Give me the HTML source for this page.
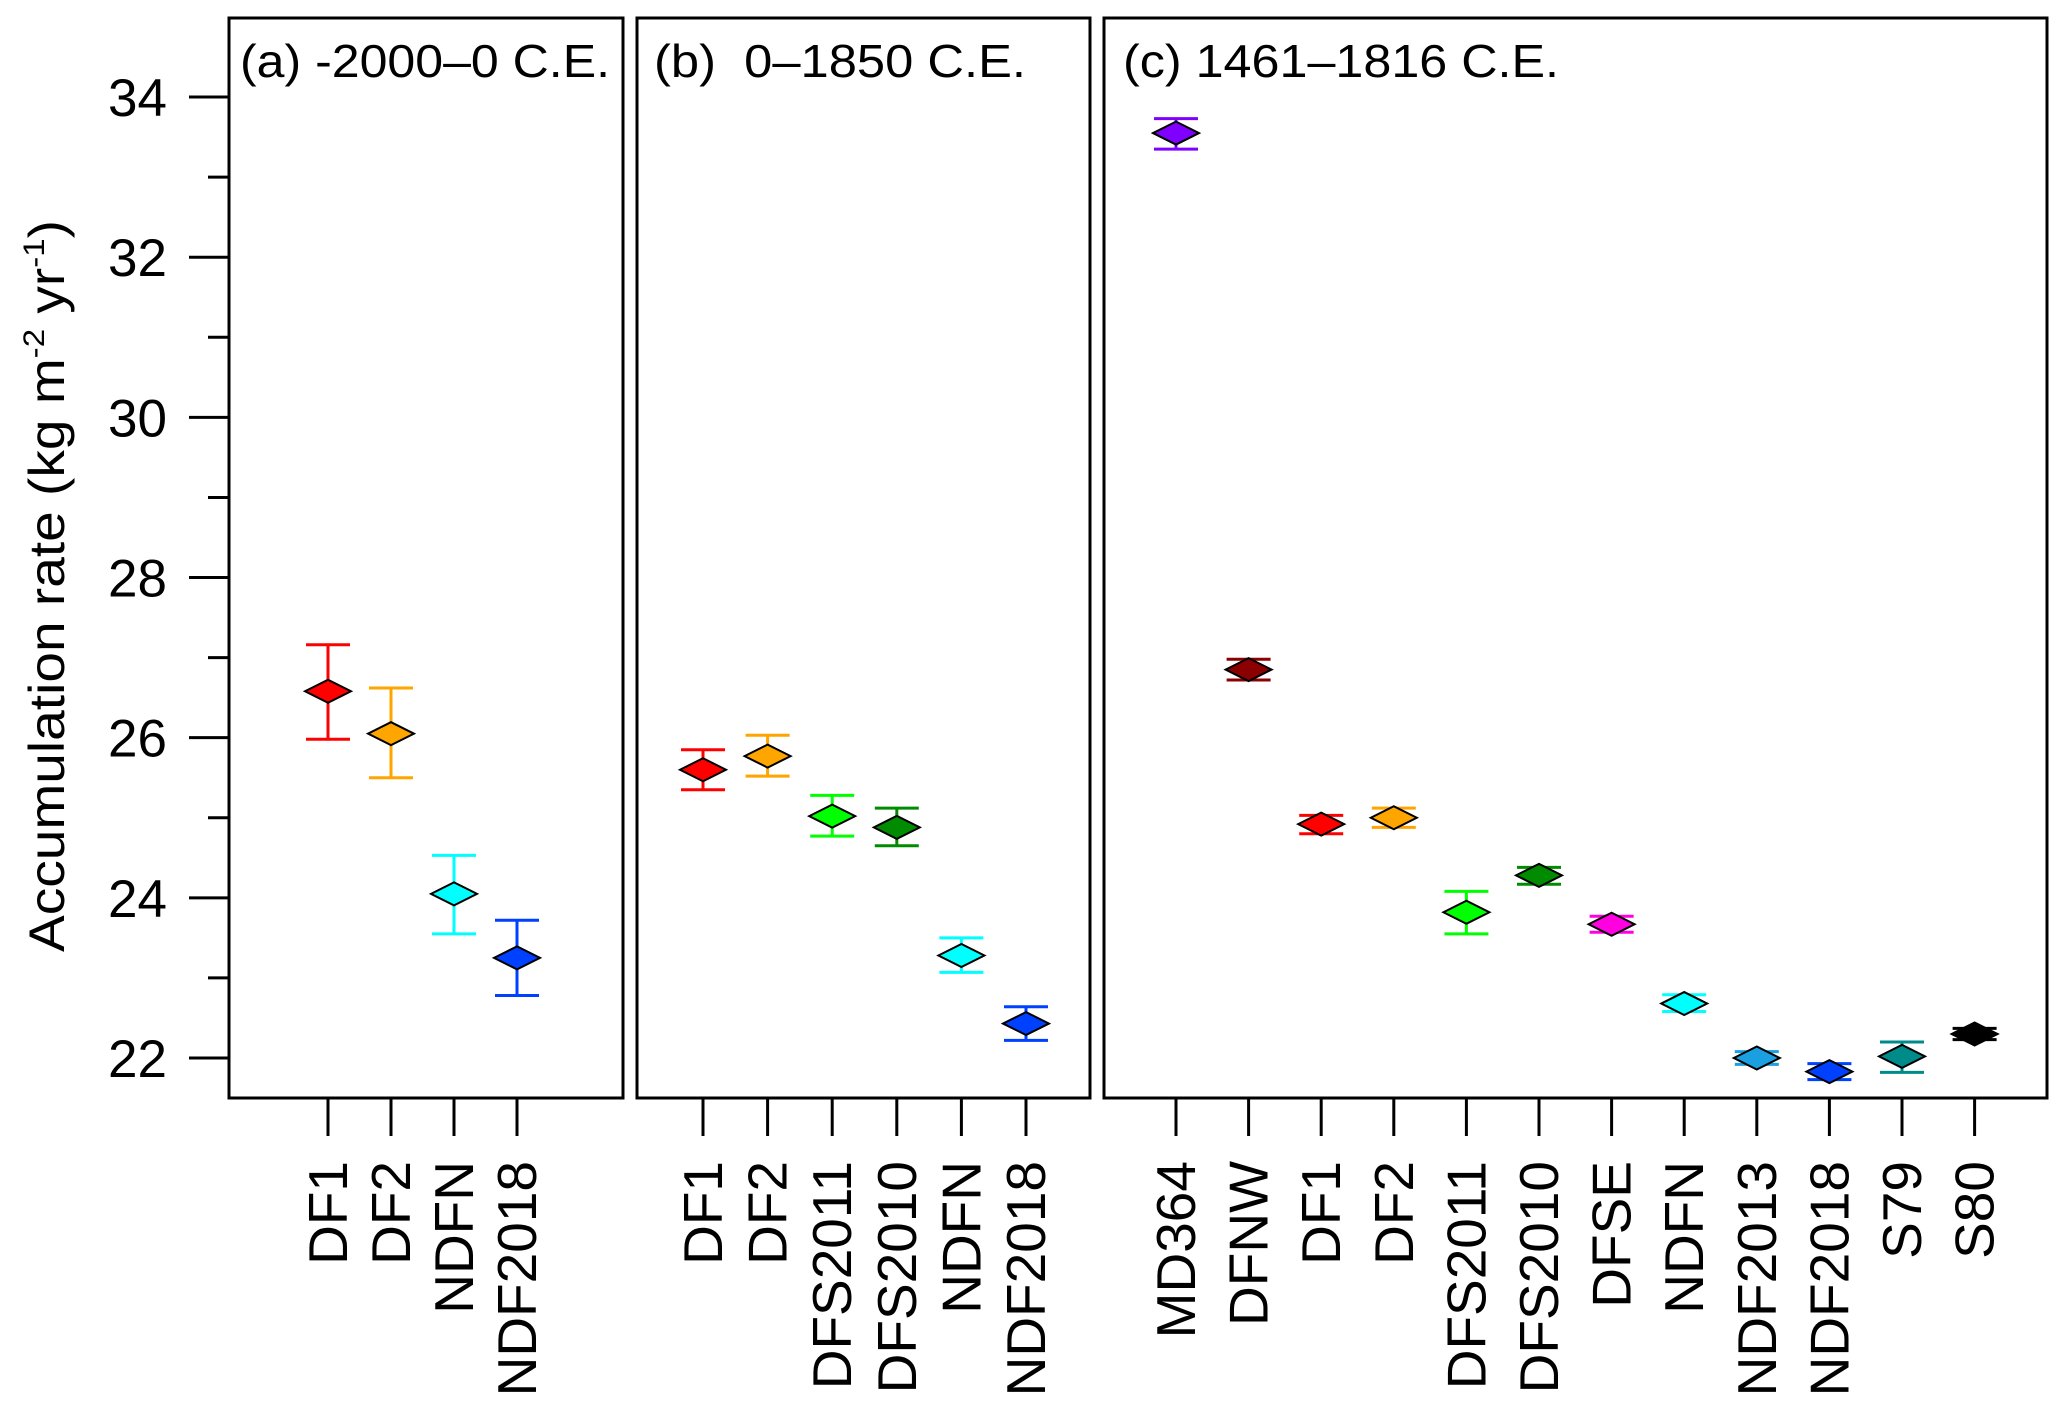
<!DOCTYPE html>
<html><head><meta charset="utf-8"><style>
html,body{margin:0;padding:0;background:#fff;}
svg{display:block;font-family:"Liberation Sans",Arial,sans-serif;}
</style></head><body>
<svg id="chart" width="2067" height="1411" viewBox="0 0 2067 1411" xmlns="http://www.w3.org/2000/svg">
<text transform="translate(64,586) rotate(-90)" text-anchor="middle" font-size="50" textLength="732" lengthAdjust="spacingAndGlyphs">Accumulation rate (kg m<tspan font-size="30" dy="-20">-2</tspan><tspan dy="20"> yr</tspan><tspan font-size="30" dy="-20">-1</tspan><tspan dy="20">)</tspan></text>
</svg>
<script>
const yTicks = [22,24,26,28,30,32,34];
const yMinor = [23,25,27,29,31,33];

const catsA = ["DF1","DF2","NDFN","NDF2018"];
const valsA = [26.58,26.05,24.05,23.25];
const lowA  = [25.98,25.50,23.55,22.78];
const highA = [27.16,26.62,24.53,23.72];
const colsA = ["#ff0000","#ffa500","#00ffff","#0040ff"];

const catsB = ["DF1","DF2","DFS2011","DFS2010","NDFN","NDF2018"];
const valsB = [25.60,25.77,25.02,24.88,23.28,22.43];
const lowB  = [25.35,25.52,24.77,24.65,23.07,22.22];
const highB = [25.85,26.03,25.28,25.12,23.50,22.64];
const colsB = ["#ff0000","#ffa500","#00ff00","#008b00","#00ffff","#0040ff"];

const catsC = ["MD364","DFNW","DF1","DF2","DFS2011","DFS2010","DFSE","NDFN","NDF2013","NDF2018","S79","S80"];
const valsC = [33.55,26.85,24.92,25.00,23.82,24.28,23.67,22.68,22.00,21.83,22.02,22.30];
const lowC  = [33.35,26.72,24.80,24.88,23.55,24.17,23.57,22.58,21.92,21.73,21.82,22.23];
const highC = [33.73,26.98,25.03,25.12,24.08,24.38,23.77,22.79,22.08,21.93,22.20,22.37];
const colsC = ["#7f00ff","#8b0000","#ff0000","#ffa500","#00ff00","#008b00","#ff00e0","#00ffff","#1aa0e0","#0040ff","#008b8b","#000000"];

const NS = "http://www.w3.org/2000/svg";
const svg = document.getElementById("chart");
const Y0 = 1058, PX = 80.08;
function yScale(v){ return Y0 - (v - 22) * PX; }
function mk(tag, attrs){ const e = document.createElementNS(NS, tag); for (const k in attrs) e.setAttribute(k, attrs[k]); svg.appendChild(e); return e; }

yTicks.forEach(v => {
  const l = mk("line",{x1:189,x2:229,y1:yScale(v),y2:yScale(v),stroke:"#000","stroke-width":3});
  
  
  const t = mk("text",{x:167,y:yScale(v)+19,"text-anchor":"end","font-size":53});
  t.textContent = v;
  
  
});
yMinor.forEach(v => {
  const l = mk("line",{x1:208,x2:229,y1:yScale(v),y2:yScale(v),stroke:"#000","stroke-width":3});
  
  
});

function panel(name, left, right, x0, step, title, tx, tlen, cats, vals, lows, highs, cols){
  const r = mk("rect",{x:left,y:18,width:right-left,height:1080,fill:"none",stroke:"#000","stroke-width":3});
  
  
  const tt = mk("text",{x:tx,y:77,"font-size":46,textLength:tlen,lengthAdjust:"spacingAndGlyphs","xml:space":"preserve"});
  tt.textContent = title;
  
  
  cats.forEach((c,i) => {
    const x = x0 + i*step;
    const tk = mk("line",{x1:x,x2:x,y1:1098,y2:1136,stroke:"#000","stroke-width":3});
    
    
    const lb = mk("text",{transform:`translate(${x+19},1161) rotate(-90)`,"text-anchor":"end","font-size":55});
    lb.textContent = c;
    
    
    const yl = yScale(lows[i]), yh = yScale(highs[i]), yv = yScale(vals[i]);
    const eb = mk("path",{d:`M${x},${yl}V${yh}M${x-22},${yl}H${x+22}M${x-22},${yh}H${x+22}`,stroke:cols[i],"stroke-width":3,fill:"none"});
    
    
    const d = mk("polygon",{points:`${x-23},${yv} ${x},${yv-11.5} ${x+23},${yv} ${x},${yv+11.5}`,fill:cols[i],stroke:"#000","stroke-width":2});
    
    
  });
}
panel("panel-a",229,623,328,63,"(a) -2000\u20130 C.E.",240,370,catsA,valsA,lowA,highA,colsA);
panel("panel-b",637,1090,703,64.6,"(b)\u00a0\u00a00\u20131850 C.E.",654,372,catsB,valsB,lowB,highB,colsB);
panel("panel-c",1104,2047,1176,72.6,"(c) 1461\u20131816 C.E.",1123,436,catsC,valsC,lowC,highC,colsC);
</script>
</body></html>
